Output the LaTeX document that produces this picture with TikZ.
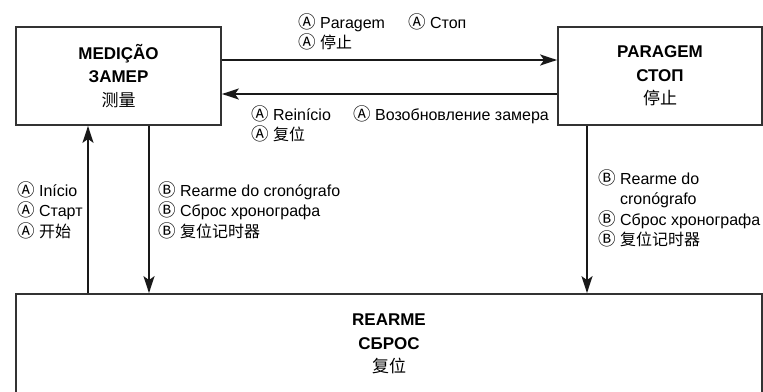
\documentclass[tikz,border=0pt]{standalone}
\usepackage{fontspec}
\setmainfont{Liberation Sans}
\newfontfamily\cjk{Noto Sans CJK SC}
\usetikzlibrary{arrows.meta}
\newcommand{\circA}{{\cjk\fontsize{17.5}{20}\selectfont Ⓐ}}
\newcommand{\circB}{{\cjk\fontsize{17.5}{20}\selectfont Ⓑ}}

\begin{document}
\begin{tikzpicture}[x=1pt, y=-1pt,
every edge/.style = {draw=black!90, line width=1.6pt,
      -{Stealth[length=17pt,width=11pt,inset=4pt]}},
 modebox/.style args = {#1/#2}{%
      rectangle, draw=black!80, line width=1.8pt, inner sep=0pt,
      minimum width=#1, minimum height=#2, align=center,
      font=\fontsize{17}{23.5}\selectfont},
 note/.style = {%
      anchor=base west, inner sep=0pt, align=left,
      font=\fontsize{16}{20.5}\selectfont}
                    ]
\useasboundingbox (0,0) rectangle (763,391);
\node(med) [modebox=205pt/98pt] at (118.5, 76) {\textbf{MEDIÇÃO}\\\textbf{ЗАМЕР}\\{\cjk 测量}};
\node(par) [modebox=204pt/98pt] at (660, 76) {\textbf{PARAGEM}\\\textbf{СТОП}\\{\cjk 停止}};
\node(rea) [modebox=746pt/100pt] at (389, 344) {\textbf{REARME}\\\textbf{СБРОС}\\{\cjk 复位}};
%
\path   ([yshift=16pt]med.east)  edge ([yshift=16pt]par.west);
\path   ([yshift=-18pt]par.west)  edge ([yshift=-18pt]med.east);
\path   ([xshift=-30.5pt]med.south |- rea.north)  edge ([xshift=-30.5pt]med.south);
\path   ([xshift=30.5pt]med.south)  edge ([xshift=30.5pt]med.south |- rea.north);
\path   ([xshift=-73pt]par.south)  edge ([xshift=-73pt]par.south |- rea.north);
%
% base of the last line
\node(stoppt) [note] at (298, 48.5) {\circA{} Paragem\\\circA{} {\cjk 停止}};
\node(stopru) [note] at (408, 28.5) {\circA{} Стоп};
\node(respt) [note] at (251, 140.5) {\circA{} Reinício\\\circA{} {\cjk 复位}};
\node(resru) [note] at (353, 120.5) {\circA{} Возобновление замера};
\node(start) [note] at (17, 237) {\circA{} Início\\\circA{} Старт\\\circA{} {\cjk 开始}};
\node(clr) [note] at (158, 237) {\circB{} Rearme do cronógrafo\\\circB{} Сброс хронографа\\\circB{} {\cjk 复位记时器}};
\node(clrpar) [note] at (598, 245.5) {\circB{} Rearme do\\\phantom{\circB{} }cronógrafo\\\circB{} Сброс хронографа\\\circB{} {\cjk 复位记时器}};
\end{tikzpicture}
\end{document}
